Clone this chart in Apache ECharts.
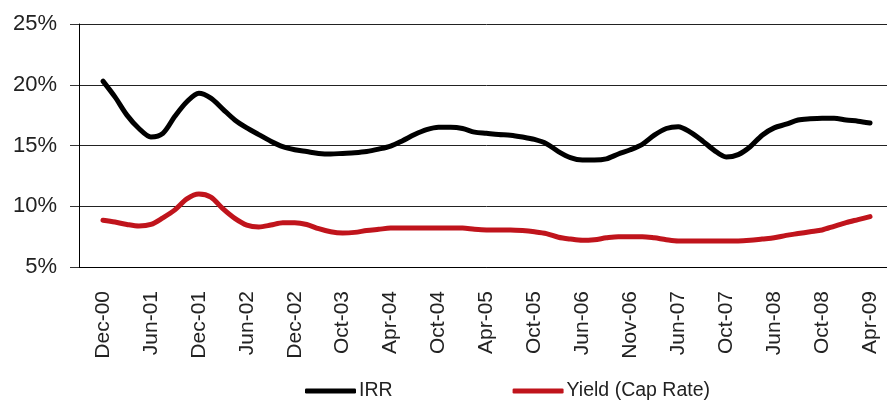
<!DOCTYPE html>
<html>
<head>
<meta charset="utf-8">
<script src="https://cdn.jsdelivr.net/npm/echarts@6/dist/echarts.min.js"></script>
<style>
  html, body { margin: 0; padding: 0; background: #fff; overflow: hidden; }
  /* plot runs past the right edge in the original, so the box is a bit wider than the window */
  #chart { width: 895px; height: 403px; }
</style>
</head>
<body>
<div id="chart"></div>
<script>
// tick labels, one for every 4th data point
var labels = ['Dec-00', 'Jun-01', 'Dec-01', 'Jun-02', 'Dec-02', 'Oct-03', 'Apr-04', 'Oct-04', 'Apr-05',
    'Oct-05', 'Jun-06', 'Nov-06', 'Jun-07', 'Oct-07', 'Jun-08', 'Oct-08', 'Apr-09'];

// IRR, %
var irr = [20.3, 19.0, 17.5, 16.4, 15.7, 16.0, 17.4, 18.6, 19.3, 18.9, 18.0, 17.1, 16.45, 15.9, 15.35, 14.9,
    14.65, 14.5, 14.35, 14.3, 14.35, 14.4, 14.5, 14.7, 14.95, 15.4, 15.9, 16.3, 16.5, 16.5, 16.4, 16.1,
    16.0, 15.9, 15.85, 15.7, 15.5, 15.15, 14.5, 14.0, 13.8, 13.8, 13.9, 14.3, 14.65, 15.1, 15.85, 16.4,
    16.55, 16.1, 15.4, 14.6, 14.05, 14.25, 14.9, 15.85, 16.45, 16.75, 17.1, 17.2, 17.25, 17.25, 17.1, 17.0,
    16.85];

// Yield (Cap Rate), %
var capRate = [8.85, 8.7, 8.5, 8.37, 8.5, 9.05, 9.7, 10.6, 11.0, 10.75, 9.8, 9.0, 8.45, 8.3, 8.45, 8.65,
    8.65, 8.5, 8.15, 7.9, 7.8, 7.85, 8.0, 8.1, 8.2, 8.2, 8.2, 8.2, 8.2, 8.2, 8.2, 8.1,
    8.05, 8.05, 8.05, 8.0, 7.9, 7.75, 7.45, 7.3, 7.2, 7.25, 7.4, 7.5, 7.5, 7.5, 7.4, 7.25,
    7.15, 7.15, 7.15, 7.15, 7.15, 7.15, 7.2, 7.3, 7.4, 7.6, 7.75, 7.9, 8.05, 8.35, 8.65, 8.9,
    9.15];

var yTicks = [5, 10, 15, 20, 25];

var FONT = "'Liberation Sans Narrow', 'Arial Narrow', 'Liberation Sans', Arial, sans-serif";

function pairs(arr) {
    return arr.map(function (v, i) { return [i, v]; });
}

var chart = echarts.init(document.getElementById('chart'));

var option = {
    animation: false,
    textStyle: { fontFamily: FONT },
    grid: { left: 79, top: 24, right: 1, height: 243, containLabel: false },
    legend: {
        left: 300,
        top: 376,
        icon: 'roundRect',
        itemWidth: 51,
        itemHeight: 5,
        itemGap: 120,
        textStyle: { fontFamily: FONT, fontSize: 19.5, color: '#222', padding: [0, 0, 0, -2] },
        data: ['IRR', 'Yield (Cap Rate)']
    },
    xAxis: [
        {
            type: 'category',
            data: labels,
            boundaryGap: true,
            axisLine: { lineStyle: { color: '#000', width: 1 } },
            axisTick: { length: 8, lineStyle: { color: '#333' } },
            axisLabel: {
                rotate: 90,
                margin: 24,
                interval: 0,
                fontFamily: FONT,
                fontSize: 21,
                color: '#222'
            },
            splitLine: { show: false }
        },
        {
            type: 'value',
            min: -2,
            max: 66,
            show: false,
            splitLine: { show: false }
        }
    ],
    yAxis: {
        type: 'value',
        min: yTicks[0],
        max: yTicks[yTicks.length - 1],
        interval: 5,
        axisLine: { show: true, onZero: false, lineStyle: { color: '#000', width: 1 } },
        axisTick: { show: true, length: 9, lineStyle: { color: '#333' } },
        axisLabel: {
            formatter: '{value}%',
            margin: 22,
            fontFamily: FONT,
            fontSize: 22,
            color: '#222'
        },
        splitLine: { lineStyle: { color: '#222', width: 1 } }
    },
    series: [
        {
            name: 'IRR',
            type: 'line',
            xAxisIndex: 1,
            data: pairs(irr),
            smooth: 0.3,
            symbol: 'none',
            lineStyle: { color: '#000', width: 5, cap: 'round', join: 'round' },
            itemStyle: { color: '#000' }
        },
        {
            name: 'Yield (Cap Rate)',
            type: 'line',
            xAxisIndex: 1,
            data: pairs(capRate),
            smooth: 0.3,
            symbol: 'none',
            lineStyle: { color: '#c0141c', width: 5, cap: 'round', join: 'round' },
            itemStyle: { color: '#c0141c' }
        }
    ]
};

chart.setOption(option);
</script>
</body>
</html>
